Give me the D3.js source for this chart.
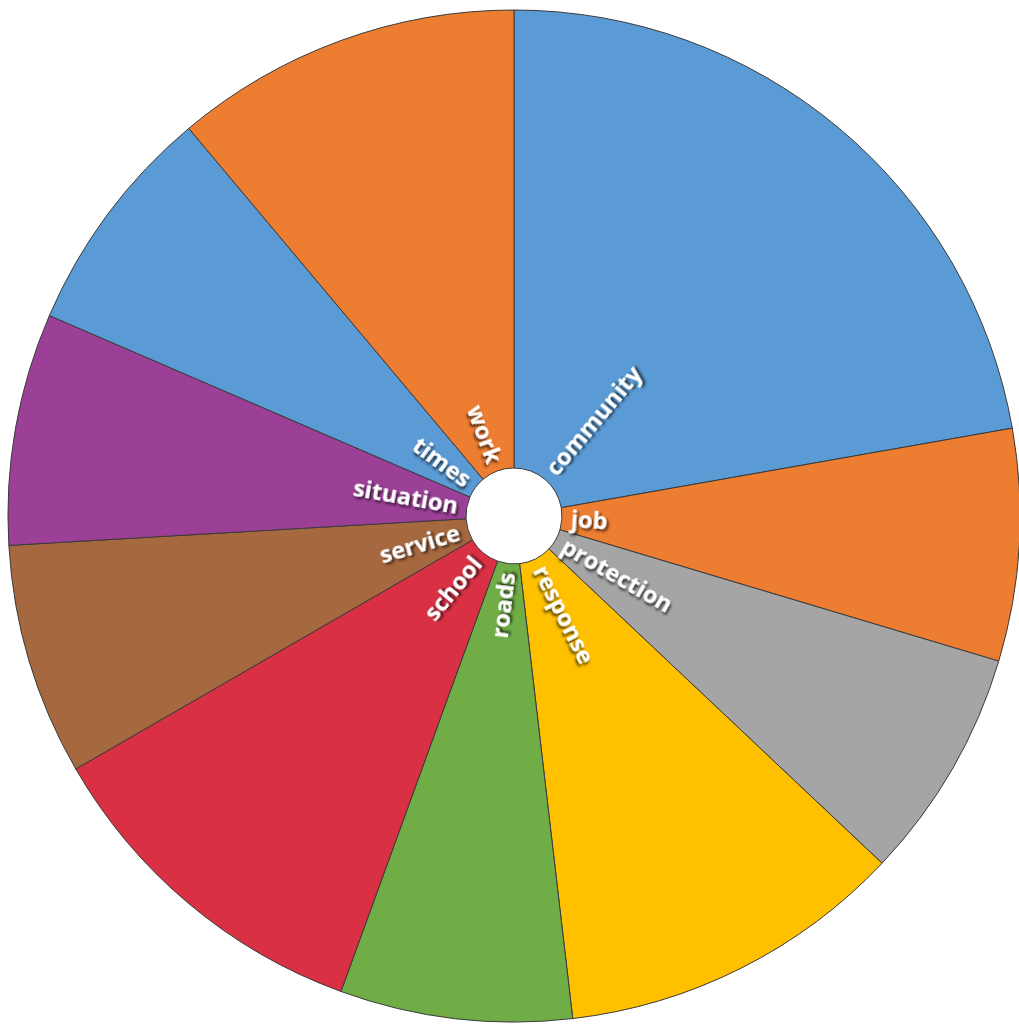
<!DOCTYPE html>
<html>
<head>
<meta charset="utf-8">
<script src="https://cdn.jsdelivr.net/npm/d3@7"></script>
<style>
  body { margin: 0; background: #fff; }
</style>
</head>
<body>
<svg id="chart"></svg>
<script>
const words = ["community", "job", "protection", "response", "roads", "school", "service", "situation", "times", "work"];
const counts = [6, 2, 2, 3, 2, 3, 2, 2, 2, 3];
const colors = ["#5B9BD5", "#ED7D31", "#A5A5A5", "#FFC000", "#70AD47", "#D93044", "#A5683F", "#9C4097", "#5B9BD5", "#ED7D31"];

const width = 1019, height = 1026;
const cx = 514, cy = 516;
const outerR = 506, innerR = 48;

const svg = d3.select("#chart").attr("width", width).attr("height", height);

// soft dark shadow behind the white labels
const defs = svg.append("defs");
defs.append("filter")
  .attr("id", "shadow")
  .attr("x", "-20%").attr("y", "-40%")
  .attr("width", "140%").attr("height", "180%")
  .append("feDropShadow")
  .attr("dx", 2).attr("dy", 2)
  .attr("stdDeviation", 1.6)
  .attr("flood-color", "#000")
  .attr("flood-opacity", 0.75);

const g = svg.append("g").attr("transform", `translate(${cx},${cy})`);

const pie = d3.pie().sort(null).value((d, i) => counts[i]);
const arcs = pie(words);

const arc = d3.arc().innerRadius(innerR).outerRadius(outerR);

g.selectAll("path.slice")
  .data(arcs)
  .join("path")
  .attr("class", "slice")
  .attr("d", arc)
  .attr("fill", (d, i) => colors[i])
  .attr("stroke", "#3a3a3a")
  .attr("stroke-width", 1);

// radial labels, reading outward on the right half and inward on the left
const labelR = 57;
g.selectAll("text.label")
  .data(arcs)
  .join("text")
  .attr("class", "label")
  .attr("transform", d => {
    const deg = ((d.startAngle + d.endAngle) / 2) * 180 / Math.PI;
    return deg < 180 ? `rotate(${deg - 90})` : `rotate(${deg + 90})`;
  })
  .attr("x", d => ((d.startAngle + d.endAngle) / 2 < Math.PI ? labelR : -labelR))
  .attr("dy", "0.35em")
  .attr("text-anchor", d => ((d.startAngle + d.endAngle) / 2 < Math.PI ? "start" : "end"))
  .attr("font-family", "'Open Sans', sans-serif")
  .attr("font-weight", 700)
  .attr("font-size", 23.5)
  .attr("fill", "#fff")
  .attr("filter", "url(#shadow)")
  .text(d => d.data);
</script>
</body>
</html>
